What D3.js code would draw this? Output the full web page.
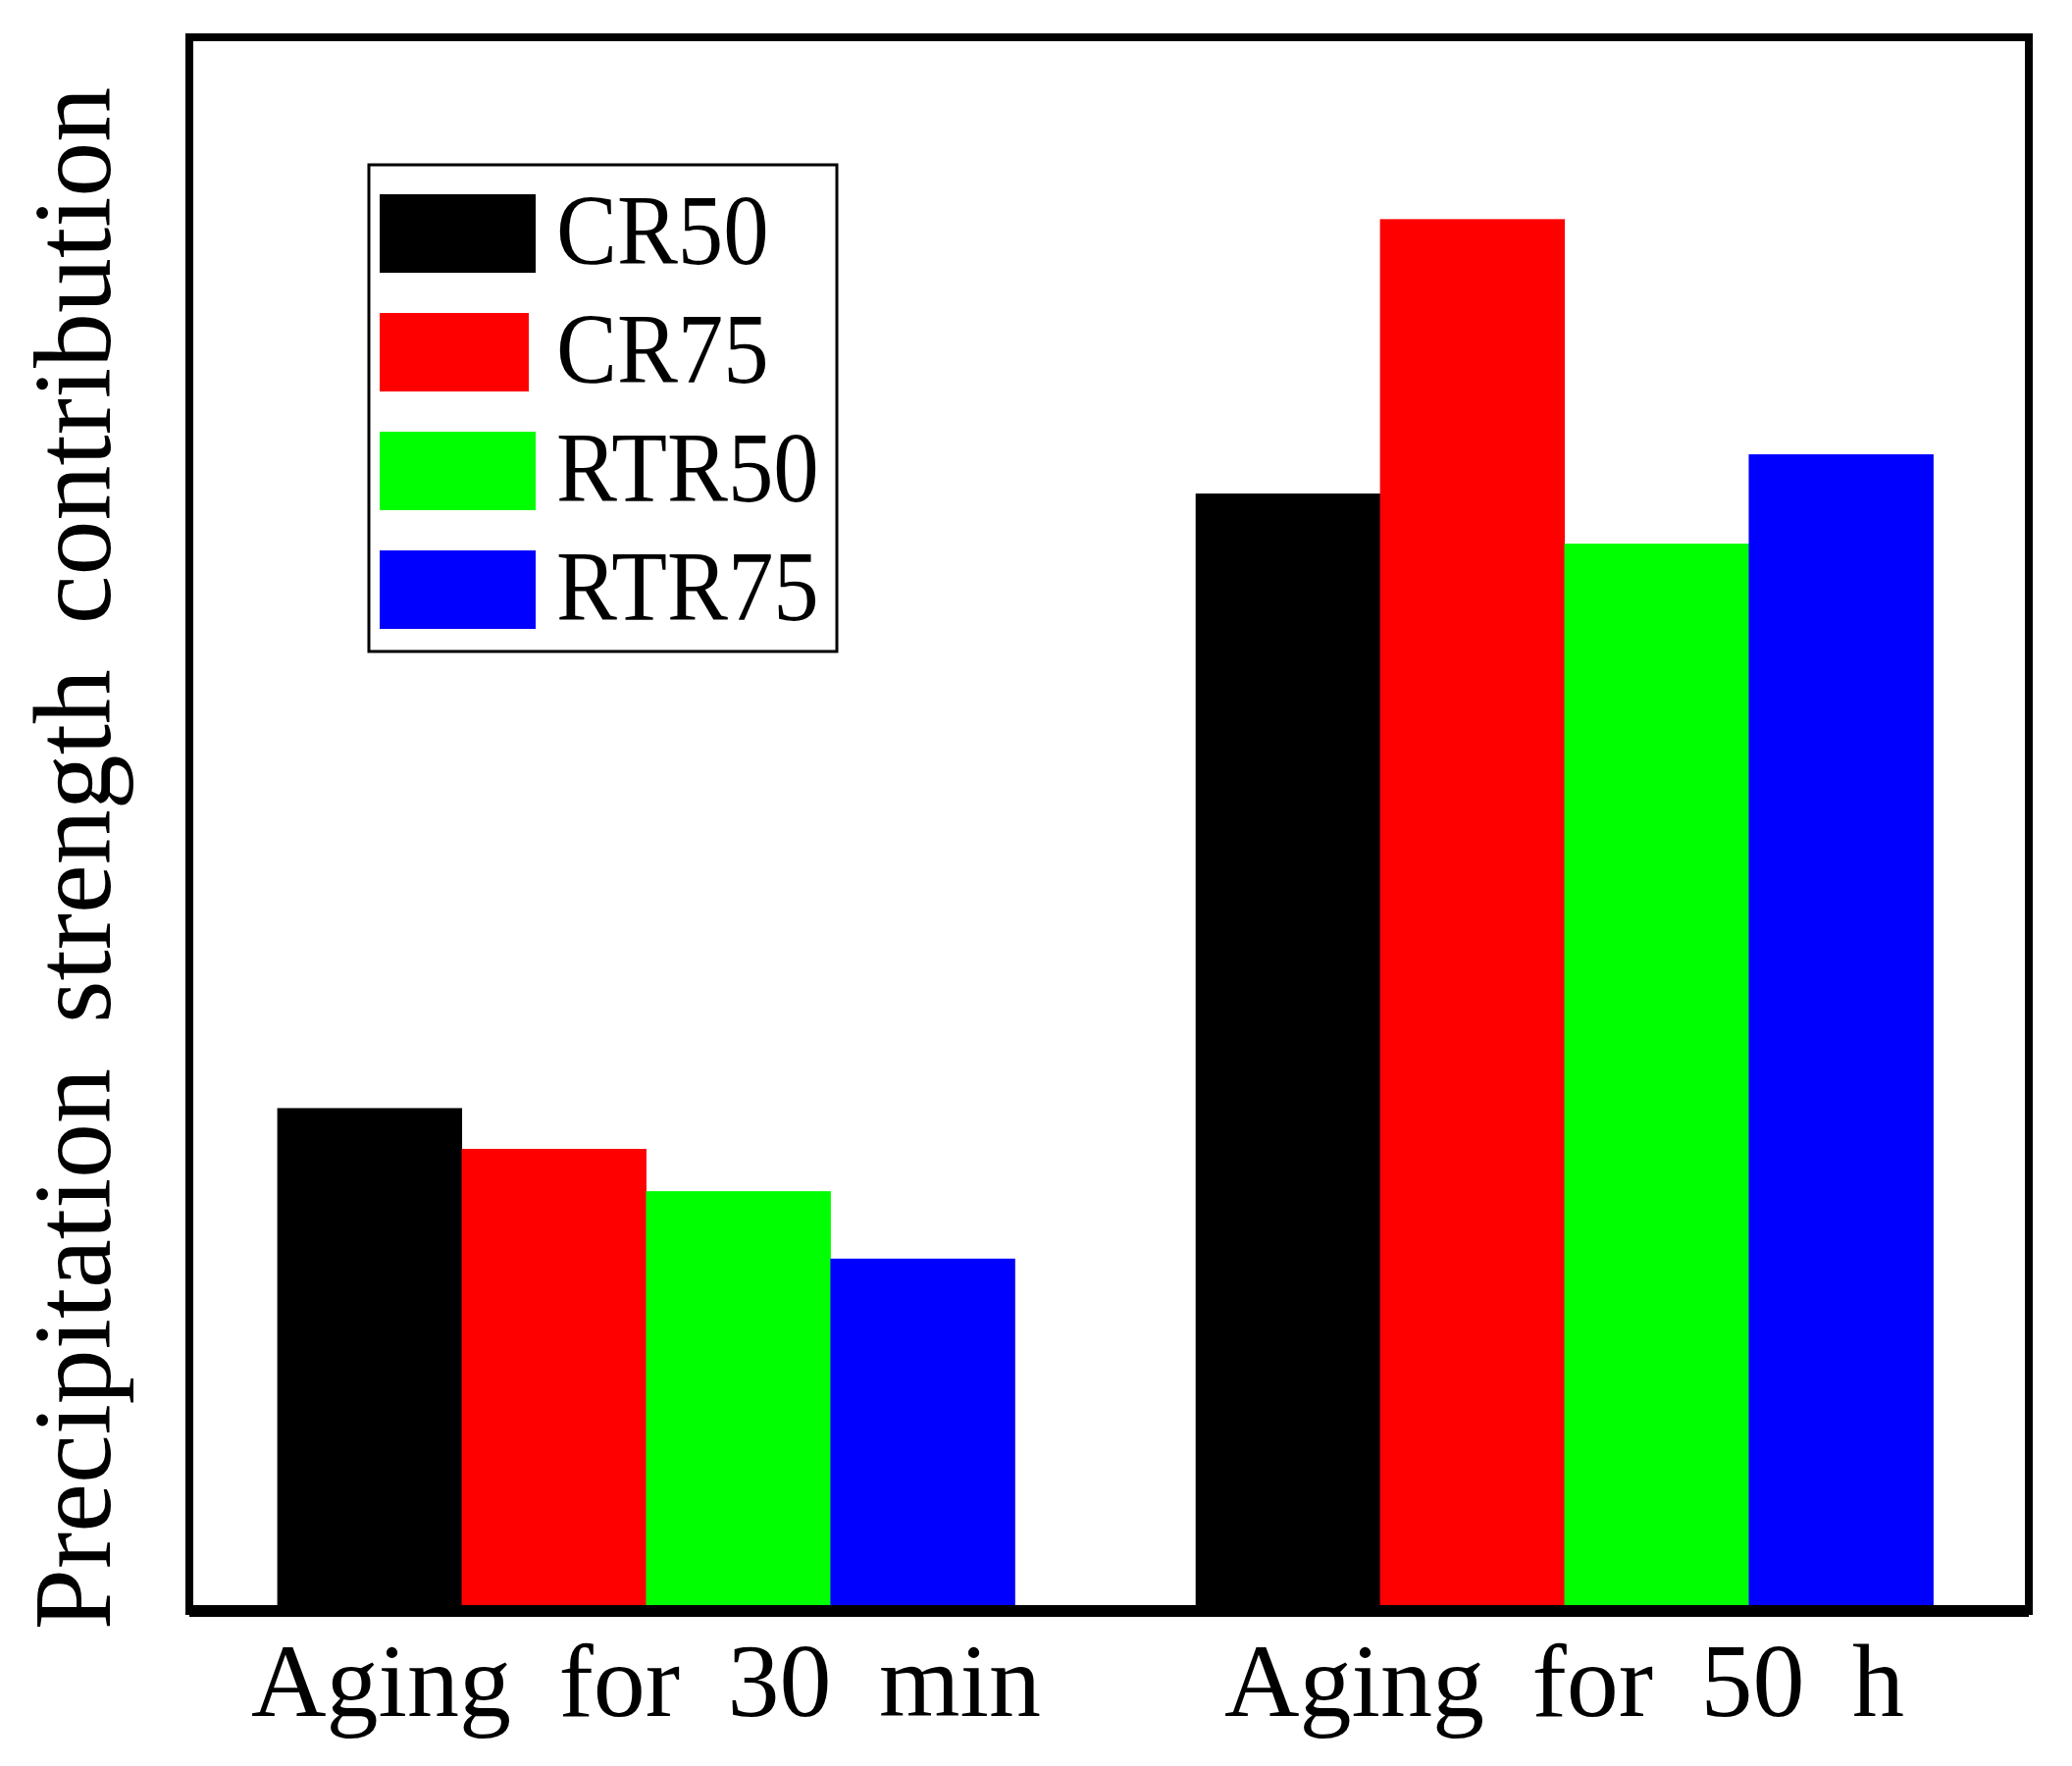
<!DOCTYPE html>
<html>
<head>
<meta charset="utf-8">
<script src="https://cdn.jsdelivr.net/npm/d3@7"></script>
<style>
    body { margin: 0; background: #fff; }
    text { font-family: "Liberation Serif", "Times New Roman", serif; fill: #000; }
</style>
</head>
<body>
<div id="chart"></div>
<script>
// Data (arbitrary units, no y ticks shown)
const groups = ["Aging for 30 min", "Aging for 50 h"];
const series = ["CR50", "CR75", "RTR50", "RTR75"];
const colors = ["#000000", "#ff0000", "#00ff00", "#0000ff"];
const cr50 = [31.7, 70.9];
const cr75 = [29.1, 88.4];
const rtr50 = [26.4, 67.7];
const rtr75 = [22.1, 73.4];
const yLabel = "Precipitation strength contribution";

const values = [cr50, cr75, rtr50, rtr75];
const width = 2112, height = 1800;
const margin = {top: 38, right: 44, bottom: 164, left: 193};

const svg = d3.select("#chart").append("svg")
    .attr("width", width)
    .attr("height", height);

svg.append("rect").attr("width", width).attr("height", height).attr("fill", "#fff");

const x = d3.scaleBand()
    .domain(groups)
    .range([margin.left - 4, width - margin.right - 4])
    .paddingInner(0.197)
    .paddingOuter(0.1);

const xSub = d3.scaleBand()
    .domain(series)
    .range([0, x.bandwidth()])
    .padding(0);

const y = d3.scaleLinear()
    .domain([0, 100])
    .range([height - margin.bottom, margin.top]);

// bars
const rows = groups.map((g, gi) => series.map((s, si) => ({group: g, key: s, value: values[si][gi], color: colors[si]})));

svg.selectAll(".grp")
    .data(rows)
    .enter()
    .append("g")
    .attr("class", "grp")
    .attr("transform", (d, i) => `translate(${x(groups[i])},0)`)
    .selectAll("rect")
    .data(d => d)
    .enter()
    .append("rect")
    .attr("x", d => xSub(d.key))
    .attr("y", d => y(d.value))
    .attr("width", xSub.bandwidth() + 0.5)
    .attr("height", d => y(0) - y(d.value))
    .attr("fill", d => d.color);

// frame
svg.append("rect")
    .attr("x", margin.left)
    .attr("y", margin.top)
    .attr("width", width - margin.left - margin.right)
    .attr("height", y(0) + 6 - margin.top)
    .attr("fill", "none")
    .attr("stroke", "#000")
    .attr("stroke-width", 8);

// bottom axis line
svg.append("line")
    .attr("x1", margin.left)
    .attr("x2", width - margin.right)
    .attr("y1", y(0) + 6)
    .attr("y2", y(0) + 6)
    .attr("stroke", "#000")
    .attr("stroke-width", 12);

// group labels via axis
const xAxis = svg.append("g")
    .attr("transform", `translate(0,${y(0) + 6})`)
    .call(d3.axisBottom(x).tickSize(0).tickPadding(54).tickSizeOuter(0));

xAxis.select(".domain").remove();
xAxis.selectAll(".tick text")
    .attr("font-size", 106)
    .attr("word-spacing", 22)
    .attr("dy", "0.5em")
    .style("font-family", '"Liberation Serif", "Times New Roman", serif');

// y label
svg.append("text")
    .attr("transform", `translate(112,${(margin.top + y(0)) / 2 + 38}) rotate(-90)`)
    .attr("text-anchor", "middle")
    .attr("font-size", 112)
    .attr("word-spacing", 18)
    .text(yLabel);

// legend
const legend = svg.append("g").attr("transform", "translate(376,168)");

legend.append("rect")
    .attr("width", 477)
    .attr("height", 496)
    .attr("fill", "#fff")
    .attr("stroke", "#000")
    .attr("stroke-width", 3);

const item = legend.selectAll(".item")
    .data(series)
    .enter()
    .append("g")
    .attr("class", "item")
    .attr("transform", (d, i) => `translate(11,${70 + i * 121})`);

item.append("rect")
    .attr("x", 0)
    .attr("y", -40)
    .attr("width", (d, i) => i === 1 ? 152 : 159)
    .attr("height", 80)
    .attr("fill", (d, i) => colors[i]);

item.append("text")
    .attr("transform", "translate(180,31) scale(0.91,1)")
    .attr("font-size", 102)
    .text(d => d);
</script>
</body>
</html>
